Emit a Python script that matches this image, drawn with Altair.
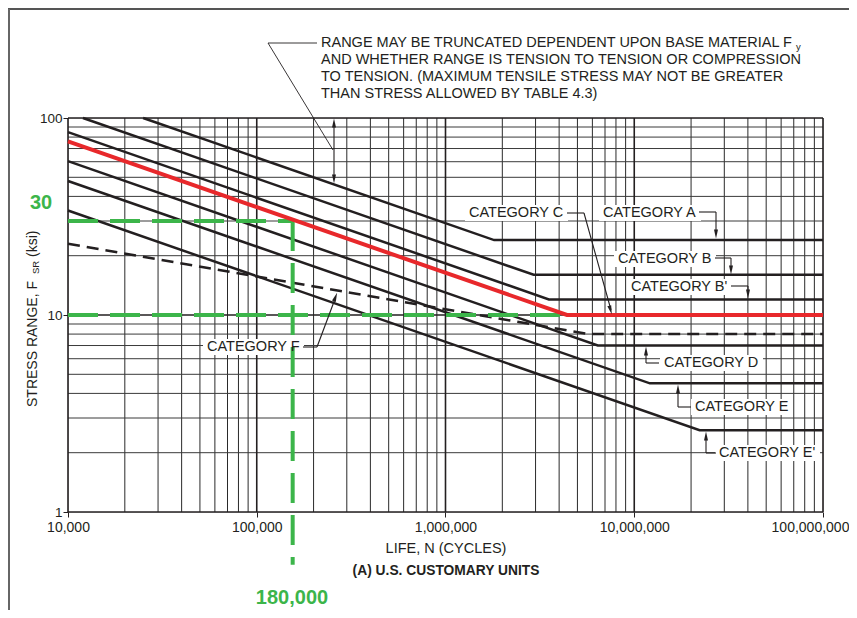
import altair as alt
import pandas as pd

# ---------------- data ----------------
cat_names = ["A", "B", "B'", "C", "D", "E", "E'", "F"]
start_N = [25000, 12000, 10000, 10000, 10000, 10000, 10000, 10000]
start_F = [100, 100, 84.8, 76.0, 60.4, 47.9, 33.9, 23.0]
knee_N = [1.81e6, 2.93e6, 3.53e6, 4.4e6, 6.41e6, 1.21e7, 2.22e7, 5.72e6]
threshold_F = [24, 16, 12, 10, 7, 4.5, 2.6, 8]
end_N = 1e8

# green example guides (30 ksi -> 180,000 cycles; 10 ksi threshold of Category C)
guide_N = 155000
guide_F_high = 30
guide_F_low = 10
guide_F_bottom = 0.54
guide_knee_N = 4.4e6

# tick / grid values
x_decades = [1e4, 1e5, 1e6, 1e7]
y_decades = [1, 10]
multipliers = [1, 2, 3, 4, 5, 6, 7, 8, 9]
x_label_values = [1e4, 1e5, 1e6, 1e7, 1e8]
y_label_values = [1, 10, 100]

# ---------------- tables built from the lists ----------------
rows = []
for c, n0, f0, nk, ft in zip(cat_names, start_N, start_F, knee_N, threshold_F):
    rows += [{"cat": c, "N": n0, "F": f0, "o": 0},
             {"cat": c, "N": nk, "F": ft, "o": 1},
             {"cat": c, "N": end_N, "F": ft, "o": 2}]
curves = pd.DataFrame(rows)
black = curves[~curves["cat"].isin(["C", "F"])]
red = curves[curves["cat"] == "C"]
fcat = curves[curves["cat"] == "F"]

xgrid_minor = pd.DataFrame({"N": [m * d for d in x_decades for m in multipliers[1:]]})
xgrid_major = pd.DataFrame({"N": x_decades + [end_N]})
ygrid_minor = pd.DataFrame({"F": [m * d for d in y_decades for m in multipliers[1:]]})
ygrid_major = pd.DataFrame({"F": y_decades + [100]})

guides = pd.DataFrame([
    {"g": "h30", "N": 1e4, "F": guide_F_high, "o": 0},
    {"g": "h30", "N": guide_N, "F": guide_F_high, "o": 1},
    {"g": "v", "N": guide_N, "F": guide_F_high, "o": 0},
    {"g": "v", "N": guide_N, "F": guide_F_bottom, "o": 1},
    {"g": "h10", "N": 1e4, "F": guide_F_low, "o": 0},
    {"g": "h10", "N": guide_knee_N, "F": guide_F_low, "o": 1},
])

# ---------------- styling ----------------
INK = "#231f20"
GRID = "#2a2a2a"
RED = "#e8282b"
GREEN = "#3cb54a"
FONT = "Liberation Sans"
PLOT_X0, PLOT_Y0 = 68, 118   # page position of the plot origin
W, H = 755, 394

x_scale = alt.Scale(type="log", domain=[1e4, 1e8], nice=False)
y_scale = alt.Scale(type="log", domain=[1, 100], nice=False)

x_axis = alt.Axis(values=x_label_values, format=",", title=None, grid=False, domain=False,
                  tickSize=5, tickColor=INK, tickWidth=1, labelFont=FONT, labelFontSize=14,
                  labelColor=INK, labelPadding=3, labelFlush=False, labelOverlap=False,
                  labelOffset={"condition": {"test": "datum.value >= 100000000", "value": -13}, "value": 0})
y_axis = alt.Axis(values=y_label_values, format="d", title=None, grid=False, domain=False,
                  tickSize=5, tickColor=INK, tickWidth=1, labelFont=FONT, labelFontSize=13.5,
                  labelColor=INK, labelPadding=1)


def X(field="N"):
    return alt.X(f"{field}:Q", scale=x_scale, axis=x_axis)


def Y(field="F"):
    return alt.Y(f"{field}:Q", scale=y_scale, axis=y_axis)


layers = []
layers.append(alt.Chart(xgrid_minor).mark_rule(color=GRID, strokeWidth=1).encode(x=X()))
layers.append(alt.Chart(ygrid_minor).mark_rule(color="#3a3a3a", strokeWidth=1).encode(y=Y()))
layers.append(alt.Chart(xgrid_major).mark_rule(color=INK, strokeWidth=1.6).encode(x=X()))
layers.append(alt.Chart(ygrid_major).mark_rule(color=INK, strokeWidth=1.3).encode(y=Y()))

ONE = pd.DataFrame({"k": [0]})


def px(x):
    return alt.value(x - PLOT_X0)


def py(y):
    return alt.value(y - PLOT_Y0)


# category labels: (text, left x, centre y, approx width) in page pixels
cat_labels = [
    ("CATEGORY C", 469, 213, 96), ("CATEGORY A", 603, 213, 95),
    ("CATEGORY B", 618, 259, 95), ("CATEGORY B'", 631, 287, 98),
    ("CATEGORY D", 664, 363, 96), ("CATEGORY E", 695, 407, 95),
    ("CATEGORY E'", 719, 453, 98), ("CATEGORY F", 207, 347, 94),
]
for t, lx, cy, w in cat_labels:
    layers.append(alt.Chart(ONE).mark_rect(color="white").encode(
        x=px(lx - 4), x2=px(lx + w + 3), y=py(cy - 8), y2=py(cy + 8)))

# curves
layers.append(alt.Chart(black).mark_line(color=INK, strokeWidth=2.5).encode(
    x=X(), y=Y(), detail="cat:N", order="o:Q"))
layers.append(alt.Chart(fcat).mark_line(color=INK, strokeWidth=2.5, strokeDash=[12, 7]).encode(
    x=X(), y=Y(), order="o:Q"))
layers.append(alt.Chart(guides).mark_line(color=GREEN, strokeWidth=4, strokeDash=[30, 12]).encode(
    x=X(), y=Y(), detail="g:N", order="o:Q"))
layers.append(alt.Chart(red).mark_line(color=RED, strokeWidth=4).encode(
    x=X(), y=Y(), order="o:Q"))


def text(t, x, y, size=14.5, weight="normal", align="left", color=INK, angle=0):
    return alt.Chart(ONE).mark_text(text=t, align=align, baseline="middle", fontSize=size,
                                    fontWeight=weight, font=FONT, color=color, angle=angle).encode(
        x=px(x), y=py(y))


def seg(x1, y1, x2, y2, w=1.1, color=INK):
    return alt.Chart(ONE).mark_rule(color=color, strokeWidth=w).encode(
        x=px(x1), y=py(y1), x2=px(x2), y2=py(y2))


ARROW = "M0,1 L-0.45,-1 L0.45,-1 Z"


def head(x, y, angle):
    return alt.Chart(ONE).mark_point(shape=ARROW, filled=True, color=INK, opacity=1, size=80,
                                     strokeWidth=0, angle=angle).encode(x=px(x), y=py(y))


def polyline(pts, w=1.1):
    return [seg(a[0], a[1], b[0], b[1], w) for a, b in zip(pts[:-1], pts[1:])]


# category labels text
for t, lx, cy, w in cat_labels:
    layers.append(text(t, lx, cy))

# leaders and arrowheads (page pixels)
layers += polyline([(567, 213), (584, 213), (611, 310)])
layers.append(head(610.5, 310, 344))
layers += polyline([(699, 212), (716, 212), (716, 232)])
layers.append(head(716, 234, 0))
layers += polyline([(715, 258), (731, 258), (731, 268)])
layers.append(head(731, 270, 0))
layers += polyline([(731, 286), (748, 286), (748, 292)])
layers.append(head(748, 294, 0))
layers += polyline([(659, 363), (646, 363), (646, 353)])
layers.append(head(646, 351, 180))
layers += polyline([(691, 407), (678, 407), (678, 391)])
layers.append(head(678, 389, 180))
layers += polyline([(716, 453), (706, 453), (706, 438)])
layers.append(head(706, 436, 180))
layers += polyline([(303, 347), (317, 347), (335, 299)])
layers.append(head(335.5, 297, 201))

# truncation note
note = ["RANGE MAY BE TRUNCATED DEPENDENT UPON BASE MATERIAL F",
        "AND WHETHER RANGE IS TENSION TO TENSION OR COMPRESSION",
        "TO TENSION. (MAXIMUM TENSILE STRESS MAY NOT BE GREATER",
        "THAN STRESS ALLOWED BY TABLE 4.3)"]
for i, line in enumerate(note):
    layers.append(text(line, 321, 43 + 17 * i))
layers.append(text("y", 796, 46.5, size=9.5))
layers += polyline([(317, 43), (268, 43), (333, 150)], w=0.9)
layers.append(seg(334, 123, 334, 179, w=1.1))
layers.append(head(334, 123, 180))
layers.append(head(334, 179, 0))

# axis titles
layers.append(text("LIFE, N (CYCLES)", 446, 549, size=14.5, align="center"))
layers.append(text("(A) U.S. CUSTOMARY UNITS", 446, 571, size=13.8, weight="bold", align="center"))
layers.append(text("STRESS RANGE, F", 33, 407, size=14, angle=270))
layers.append(text("SR", 36, 274, size=9.5, angle=270))
layers.append(text("(ksi)", 33, 257, size=14, angle=270))

# green callouts
layers.append(text("30", 41, 203, size=20, weight="bold", align="center", color=GREEN))
layers.append(text("180,000", 292, 598, size=20, weight="bold", align="center", color=GREEN))

# panel border (top and left)
layers.append(seg(8, 9, 857, 9, w=2, color="#555555"))
layers.append(seg(9, 9, 9, 618, w=2, color="#666666"))

chart = alt.layer(*layers).properties(
    width=W, height=H,
    autosize=alt.AutoSizeParams(type="none"),
    padding={"left": 60, "top": 110, "right": 26, "bottom": 98},
).configure_view(stroke=INK, strokeWidth=1.8).configure(background="white")

chart.save("out.html", embed_options={"renderer": "svg", "actions": False})
